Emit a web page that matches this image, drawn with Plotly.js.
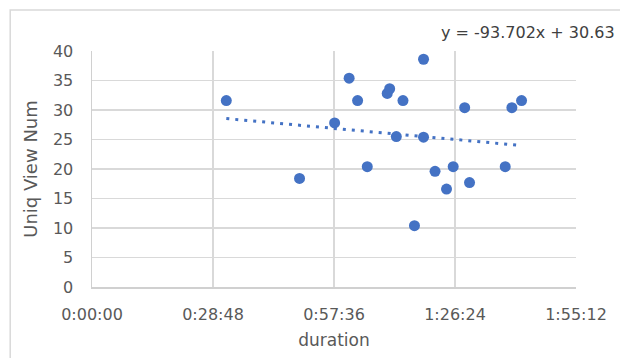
<!DOCTYPE html>
<html>
<head>
<meta charset="utf-8">
<script src="https://cdn.plot.ly/plotly-3.0.1.min.js"></script>
<style>html,body{margin:0;padding:0;background:#fff;}#chart{width:620px;height:358px;}</style>
</head>
<body>
<div id="chart"></div>
<script>
// duration as fraction of a day
const duration = [0.0222, 0.0343, 0.0401, 0.0425, 0.0439, 0.0455, 0.0488, 0.0492, 0.0503, 0.0514,
                  0.0533, 0.0548, 0.0548, 0.0567, 0.0586, 0.0597, 0.0616, 0.0624, 0.0683, 0.0694, 0.0710];
const uniqViewNum = [31.6, 18.4, 27.8, 35.4, 31.6, 20.4, 32.8, 33.6, 25.5, 31.6,
                     10.4, 38.6, 25.4, 19.6, 16.6, 20.4, 30.4, 17.7, 20.4, 30.4, 31.6];
const tickVals = [0, 0.02, 0.04, 0.06, 0.08];
const tickText = ["0:00:00", "0:28:48", "0:57:36", "1:26:24", "1:55:12"];
const slope = -93.702;
const intercept = 30.63;

const xMin = Math.min(...duration), xMax = Math.max(...duration);
const trendX = [xMin, xMax];
const trendY = trendX.map(x => slope * x + intercept);

const blue = '#4472C4';
const fam = 'DejaVu Sans, sans-serif';
const tickFont = {family: fam, size: 16, color: '#595959'};

Plotly.newPlot('chart', [
  {x: trendX, y: trendY, mode: 'lines', line: {color: blue, width: 3, dash: '3px,6px'}, hoverinfo: 'skip'},
  {x: duration, y: uniqViewNum, mode: 'markers', marker: {color: blue, size: 11}}
], {
  width: 620, height: 358,
  margin: {l: 92, r: 44, t: 51, b: 71},
  showlegend: false,
  paper_bgcolor: '#fff', plot_bgcolor: '#fff',
  xaxis: {
    range: [0, 0.08], tickvals: tickVals, ticktext: tickText,
    showgrid: true, gridcolor: '#d9d9d9', gridwidth: 1.5, zeroline: false,
    showline: true, linecolor: '#d0d0d0', linewidth: 1.5,
    ticks: '', ticklabelstandoff: 12, tickfont: tickFont,
    title: {text: 'duration', font: {family: fam, size: 17, color: '#595959'}, standoff: 11},
    fixedrange: true, automargin: false
  },
  yaxis: {
    range: [0, 40], tickvals: [0,5,10,15,20,25,30,35,40],
    showgrid: true, gridcolor: '#d9d9d9', gridwidth: 1.5, zeroline: false,
    showline: true, linecolor: '#d0d0d0', linewidth: 1.5,
    ticks: '', ticklabelstandoff: 14, tickfont: tickFont,
    title: {text: 'Uniq View Num', font: {family: fam, size: 18, color: '#595959'}, standoff: 10},
    fixedrange: true, automargin: false
  },
  annotations: [{
    xref: 'paper', yref: 'paper', x: 1.084, y: 1.08, xanchor: 'right', yanchor: 'middle',
    text: 'y = -93.702x + 30.63', showarrow: false,
    font: {family: fam, size: 16, color: '#404040'}
  }],
  shapes: [{
    type: 'rect', xref: 'paper', yref: 'paper', x0: -0.169, x1: 1.2, y0: -0.4, y1: 1.174,
    line: {color: '#d9d9d9', width: 1.5}, fillcolor: 'rgba(0,0,0,0)', layer: 'below'
  }]
}, {displayModeBar: false, staticPlot: true});
</script>
</body>
</html>
